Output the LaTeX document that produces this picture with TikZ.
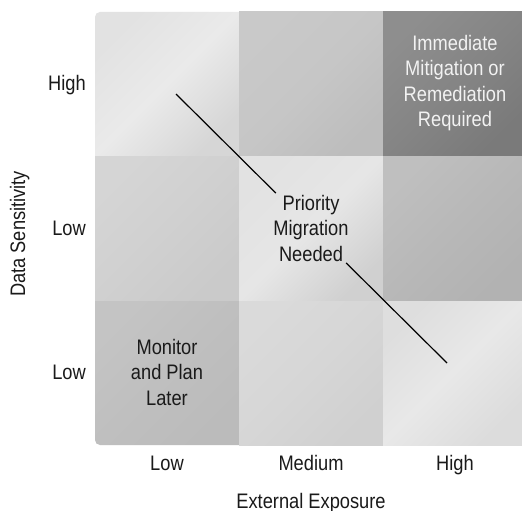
\documentclass[tikz,border=0pt]{standalone}
\usepackage{fontspec}
\setmainfont[FakeStretch=0.87]{Liberation Sans}
\definecolor{txt}{HTML}{1A1A1A}
\definecolor{txtw}{HTML}{F2F2F2}
\definecolor{aA}{HTML}{E2E2E2}\definecolor{aB}{HTML}{EAEAEA}\definecolor{aC}{HTML}{D6D6D6}
\definecolor{bA}{HTML}{C9C9C9}\definecolor{bB}{HTML}{C6C6C6}\definecolor{bC}{HTML}{BDBDBD}
\definecolor{cA}{HTML}{8E8E8E}\definecolor{cB}{HTML}{858585}\definecolor{cC}{HTML}{7A7A7A}
\definecolor{dA}{HTML}{D5D5D5}\definecolor{dB}{HTML}{D0D0D0}\definecolor{dC}{HTML}{CACACA}
\definecolor{eA}{HTML}{E2E2E2}\definecolor{eB}{HTML}{E6E6E6}\definecolor{eC}{HTML}{D0D0D0}
\definecolor{fA}{HTML}{BFBFBF}\definecolor{fB}{HTML}{B8B8B8}\definecolor{fC}{HTML}{B2B2B2}
\definecolor{gA}{HTML}{C4C4C4}\definecolor{gB}{HTML}{BFBFBF}\definecolor{gC}{HTML}{BBBBBB}
\definecolor{hA}{HTML}{DADADA}\definecolor{hB}{HTML}{D6D6D6}\definecolor{hC}{HTML}{D0D0D0}
\definecolor{iA}{HTML}{DEDEDE}\definecolor{iB}{HTML}{E8E8E8}\definecolor{iC}{HTML}{DCDCDC}
\tikzset{
  cell/.style={top color=#1A, bottom color=#1C, middle color=#1B, shading angle=45},
  lbl/.style={inner sep=0pt, text=txt, font=\fontsize{21}{25.5}\selectfont},
  celltext/.style={inner sep=1.5pt, align=center, text=txt, font=\fontsize{21}{25.5}\selectfont},
  diag/.style={draw=black, line width=1.2pt}
}
\begin{document}
\begin{tikzpicture}[x=1pt,y=-1pt]
\useasboundingbox (0,0) rectangle (522,511);
\fill[white] (0,0) rectangle (522,511);
% row 1
\shade[cell=a] (95,156) -- (95,17) arc[start angle=180, end angle=270, radius=5] -- (239,12) -- (239,156) -- cycle;
\shade[cell=b] (239,12) rectangle (383,156);
\shade[cell=c] (383,12) rectangle (522,156);
% row 2
\shade[cell=d] (95,156) rectangle (239,301);
\shade[cell=e] (239,156) rectangle (383,301);
\shade[cell=f] (383,156) rectangle (522,301);
% row 3
\shade[cell=g] (95,301) -- (95,440) arc[start angle=180, end angle=90, radius=5] -- (239,445) -- (239,301) -- cycle;
\shade[cell=h] (239,301) rectangle (383,445);
\shade[cell=i] (383,301) rectangle (522,445);
% cell texts
\node[celltext, text=txtw] (imm) at (455,83) {Immediate\\Mitigation or\\Remediation\\Required};
\node[celltext] (pm) at (311,228) {Priority\\Migration\\Needed};
\node[celltext] (mon) at (167,372) {Monitor\\and Plan\\Later};
% diagonal
\coordinate (da) at (176,94);
\coordinate (db) at (447,363);
\draw[diag] (da) -- (pm);
\draw[diag] (pm) -- (db);
% row labels
\node[lbl, anchor=base east] (rh) at (86,91) {High};
\node[lbl, anchor=base east] (rl2) at (86,235) {Low};
\node[lbl, anchor=base east] (rl3) at (86,379) {Low};
% column labels
\node[lbl, anchor=base] (cl) at (167,470) {Low};
\node[lbl, anchor=base] (cm) at (311,470) {Medium};
\node[lbl, anchor=base] (ch) at (455,470) {High};
% axis titles
\node[lbl, anchor=base] (xt) at (311,508) {External Exposure};
\node[lbl, anchor=base, rotate=90] (yt) at (25,234) {Data Sensitivity};
\end{tikzpicture}
\end{document}
